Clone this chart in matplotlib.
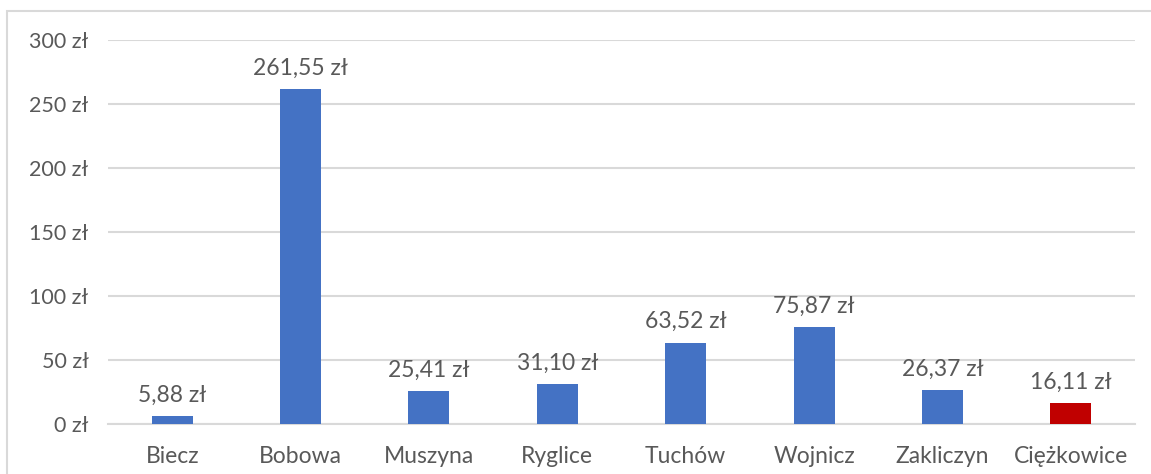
import matplotlib.pyplot as plt
from matplotlib.patches import Rectangle

# gminy i wartosci (zl)
gminy = ['Biecz', 'Bobowa', 'Muszyna', 'Ryglice', 'Tuchów', 'Wojnicz', 'Zakliczyn', 'Ciężkowice']
wartosci = [5.88, 261.55, 25.41, 31.10, 63.52, 75.87, 26.37, 16.11]
kolory = ['#4472C4'] * 7 + ['#C00000']
y_ticks = [0, 50, 100, 150, 200, 250, 300]

plt.rcParams['font.family'] = ['Lato', 'DejaVu Sans']
grey = '#595959'

fig = plt.figure(figsize=(11.51, 4.74), dpi=100)
# ramka wykresu
fig.patches.append(Rectangle((7 / 1151, -0.1), 1.2, (474 - 11) / 474 + 0.1,
                             transform=fig.transFigure, fill=False,
                             edgecolor='#D9D9D9', linewidth=1.5))
ax = fig.add_axes([108 / 1151, 1 - 424 / 474, (1135 - 108) / 1151, 384 / 474])

x = range(len(gminy))
bars = ax.bar(x, wartosci, width=0.32, color=kolory, zorder=3)
for b, v in zip(bars, wartosci):
    ax.annotate(f'{v:.2f}'.replace('.', ',') + ' zł',
                (b.get_x() + b.get_width() / 2, v), xytext=(0, 7.5),
                textcoords='offset points', ha='center', va='bottom',
                fontsize=16.5, color=grey)

ax.set_xlim(-0.5, len(gminy) - 0.5)
ax.set_ylim(0, 300)
ax.set_yticks(y_ticks)
ax.set_yticklabels([f'{t} zł' for t in y_ticks])
ax.set_xticks(list(x))
ax.set_xticklabels(gminy)
ax.tick_params(axis='both', length=0, labelcolor=grey)
ax.tick_params(axis='x', pad=16, labelsize=16.5)
ax.tick_params(axis='y', pad=14, labelsize=15.5)
ax.grid(axis='y', color='#D9D9D9', linewidth=1.5, zorder=0)
for s in ['top', 'right', 'left']:
    ax.spines[s].set_visible(False)
ax.spines['bottom'].set_color('#D9D9D9')
ax.spines['bottom'].set_linewidth(1.5)

fig.savefig('out.png', dpi=100)
